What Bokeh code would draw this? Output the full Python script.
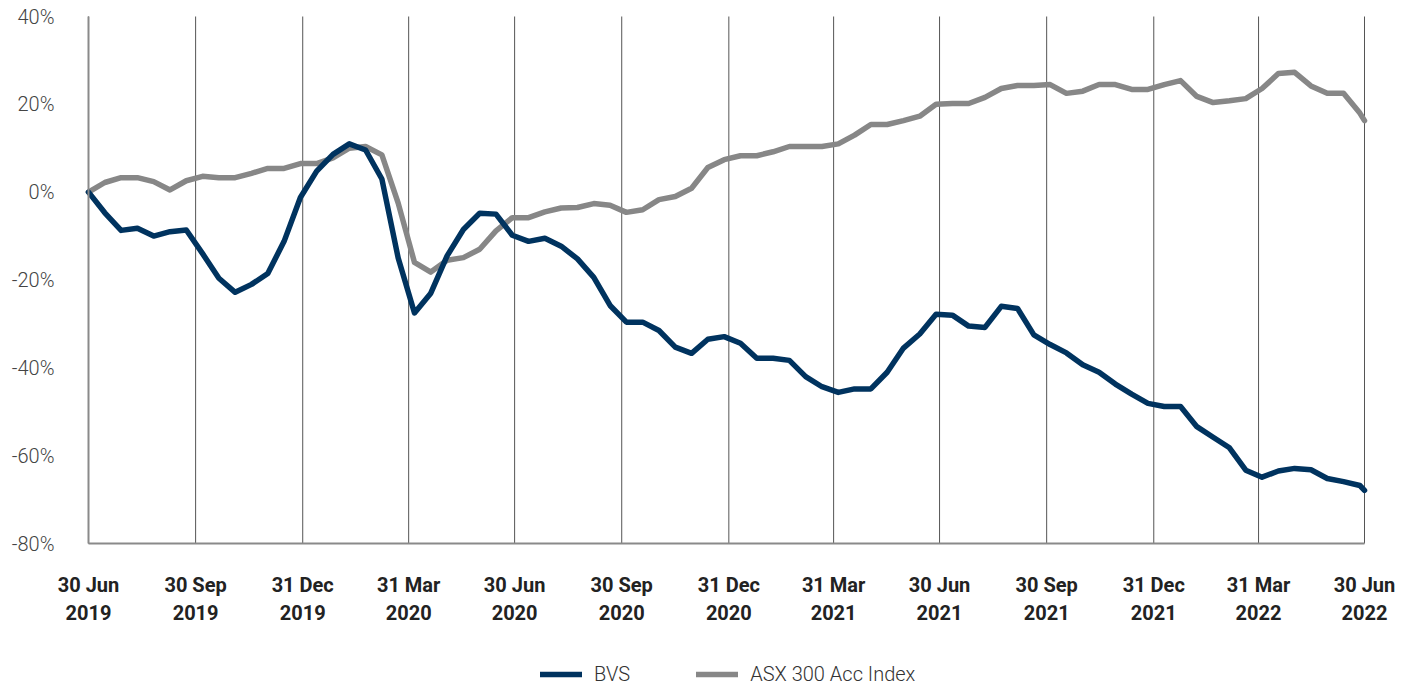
import pandas as pd
from bokeh.plotting import figure
from bokeh.models import Range1d, FixedTicker, Legend, LegendItem, ColumnDataSource
from bokeh.embed import file_html
from bokeh.resources import INLINE

# ---- data (fortnightly samples, cumulative return in %) ----
start_date = "2019-06-30"
end_date = "2022-06-30"
dates = list(pd.date_range(start_date, periods=79, freq="14D")) + [pd.Timestamp(end_date)]

bvs = [0, -4.7, -8.7, -8.2, -10.0, -9.0, -8.6, -14.0, -19.6, -22.8,
       -21.0, -18.5, -11.2, -1.2, 4.8, 8.6, 11.0, 9.6, 3.0, -15.0,
       -27.5, -23.0, -14.5, -8.5, -4.8, -5.0, -9.8, -11.2, -10.5, -12.3,
       -15.2, -19.4, -25.8, -29.6, -29.6, -31.5, -35.3, -36.7, -33.5, -32.9,
       -34.4, -37.8, -37.8, -38.3, -42.0, -44.3, -45.6, -44.8, -44.8, -41.0,
       -35.5, -32.3, -27.8, -28.0, -30.5, -30.8, -26.0, -26.5, -32.5, -34.7,
       -36.6, -39.3, -41.0, -43.7, -46.0, -48.1, -48.8, -48.8, -53.4, -55.8,
       -58.2, -63.3, -64.9, -63.5, -62.9, -63.2, -65.2, -65.9, -66.8, -67.9]

asx = [0, 2.2, 3.3, 3.3, 2.4, 0.5, 2.6, 3.6, 3.3, 3.3,
       4.3, 5.4, 5.4, 6.5, 6.5, 7.8, 10.0, 10.4, 8.5, -2.5,
       -16.0, -18.2, -15.5, -14.9, -13.0, -8.8, -5.8, -5.8, -4.5, -3.6,
       -3.5, -2.6, -3.0, -4.6, -4.0, -1.7, -1.0, 0.9, 5.6, 7.4,
       8.3, 8.3, 9.2, 10.4, 10.4, 10.4, 11.0, 13.0, 15.4, 15.4,
       16.3, 17.3, 20.0, 20.2, 20.2, 21.6, 23.6, 24.3, 24.3, 24.5,
       22.5, 23.0, 24.5, 24.5, 23.4, 23.4, 24.5, 25.4, 21.8, 20.4,
       20.8, 21.3, 23.6, 27.0, 27.3, 24.2, 22.5, 22.5, 18.0, 16.3]

tick_dates = ["2019-06-30", "2019-09-30", "2019-12-31", "2020-03-31", "2020-06-30",
              "2020-09-30", "2020-12-31", "2021-03-31", "2021-06-30", "2021-09-30",
              "2021-12-31", "2022-03-31", "2022-06-30"]
tick_labels = ["30 Jun\n2019", "30 Sep\n2019", "31 Dec\n2019", "31 Mar\n2020", "30 Jun\n2020",
               "30 Sep\n2020", "31 Dec\n2020", "31 Mar\n2021", "30 Jun\n2021", "30 Sep\n2021",
               "31 Dec\n2021", "31 Mar\n2022", "30 Jun\n2022"]
y_ticks = [-80, -60, -40, -20, 0, 20, 40]

series_names = ["BVS", "ASX 300 Acc Index"]
colors = ["#00335F", "#878787"]

# ---- build ----
t0 = pd.Timestamp(start_date)
xdays = [(d - t0).days for d in dates]
tick_days = [(pd.Timestamp(d) - t0).days for d in tick_dates]

src = ColumnDataSource(dict(x=xdays, bvs=bvs, asx=asx))

# layout: the frame covers the whole canvas; the data band occupies
# x 88..1364 px and y 16..543 px, axes sit at fixed locations inside it
W, H = 1412, 686
left_px, right_px, top_px, bottom_px = 88, 48, 16, 143
data_w = W - left_px - right_px
data_h = H - top_px - bottom_px
span_x = tick_days[-1] - tick_days[0]
span_y = y_ticks[-1] - y_ticks[0]
x_lo = tick_days[0] - left_px * span_x / data_w
x_hi = tick_days[-1] + right_px * span_x / data_w
y_lo = y_ticks[0] - bottom_px * span_y / data_h
y_hi = y_ticks[-1] + top_px * span_y / data_h

p = figure(width=W, height=H, frame_width=W, frame_height=H,
           output_backend="svg", toolbar_location=None,
           x_range=Range1d(x_lo, x_hi), y_range=Range1d(y_lo, y_hi),
           min_border_left=0, min_border_right=0, min_border_top=0, min_border_bottom=0)
p.outline_line_color = None
p.background_fill_color = "white"
p.border_fill_color = "white"

# vertical quarter lines between -80% and 40%
p.segment(x0=tick_days, y0=[y_ticks[0]] * len(tick_days),
          x1=tick_days, y1=[y_ticks[-1]] * len(tick_days),
          line_color="#555555", line_width=1)
p.xgrid.visible = False
p.ygrid.visible = False

r_asx = p.line("x", "asx", source=src, line_color=colors[1], line_width=5.5,
               line_join="round", line_cap="round")
r_bvs = p.line("x", "bvs", source=src, line_color=colors[0], line_width=5.5,
               line_join="round", line_cap="round")

# x axis placed at -80%
p.xaxis.fixed_location = y_ticks[0]
p.xaxis.bounds = (tick_days[0], tick_days[-1])
p.xaxis.ticker = FixedTicker(ticks=tick_days)
p.xaxis.major_label_overrides = {d: lab for d, lab in zip(tick_days, tick_labels)}
p.xaxis.major_tick_line_color = None
p.xaxis.minor_tick_line_color = None
p.xaxis.axis_line_color = "#8a8a8a"
p.xaxis.axis_line_width = 2
p.xaxis.major_label_text_font = "Liberation Sans Narrow, Roboto"
p.xaxis.major_label_text_font_style = "bold"
p.xaxis.major_label_text_font_size = "20px"
p.xaxis.major_label_text_color = "#222222"
p.xaxis.major_label_standoff = 23

# y axis placed at the start date
p.yaxis.fixed_location = tick_days[0]
p.yaxis.bounds = (y_ticks[0], y_ticks[-1])
p.yaxis.ticker = FixedTicker(ticks=y_ticks)
p.yaxis.major_label_overrides = {v: f"{v}%" for v in y_ticks}
p.yaxis.major_tick_line_color = None
p.yaxis.minor_tick_line_color = None
p.yaxis.axis_line_color = "#8a8a8a"
p.yaxis.axis_line_width = 2
p.yaxis.major_label_text_font = "Roboto Light, Roboto"
p.yaxis.major_label_text_font_size = "20px"
p.yaxis.major_label_text_color = "#444444"
p.yaxis.major_label_standoff = 28

legend = Legend(items=[LegendItem(label=series_names[0], renderers=[r_bvs]),
                       LegendItem(label=series_names[1], renderers=[r_asx])],
                orientation="horizontal", location=(540, 0),
                label_text_font="Roboto Light, Roboto", label_text_font_size="20px",
                label_text_color="#333333", glyph_width=42, glyph_height=20,
                spacing=66, padding=4, margin=0, label_standoff=12,
                border_line_color=None, background_fill_alpha=0)
p.add_layout(legend, "center")

open("out.html", "w").write(file_html(p, INLINE))
